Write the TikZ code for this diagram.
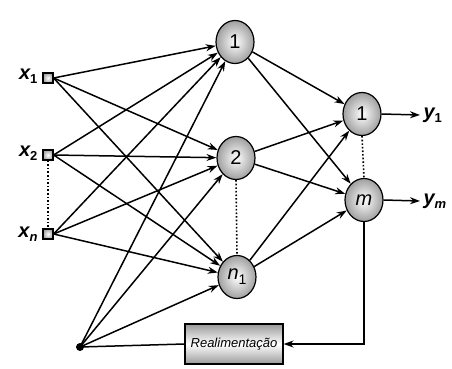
\documentclass[tikz,border=0pt]{standalone}
\usepackage{fontspec}
\setmainfont{Liberation Sans}
\usetikzlibrary{arrows.meta,shapes.geometric}
\newcommand{\mysub}[1]{\raisebox{-4.5pt}{\fontsize{13}{13}\selectfont\bfseries\upshape #1}}
\newcommand{\nsub}[1]{\raisebox{-5pt}{\fontsize{14}{14}\selectfont\upshape #1}}
\begin{document}
\begin{tikzpicture}[x=1pt,y=-1pt,
 neuron/.style={ellipse, draw, line width=1.2pt, minimum width=38pt, minimum height=43pt, inner sep=0pt, inner color=white, outer color=gray!75, font=\fontsize{20}{20}\selectfont},
 inbox/.style={rectangle, draw, line width=1.2pt, minimum size=10pt, inner sep=0pt, inner color=white, outer color=gray!70},
 conn/.style={line width=1.5pt, -{Stealth[length=10pt,width=7pt]}},
 plain/.style={line width=1.5pt},
 lbl/.style={font=\fontsize{20}{20}\selectfont\bfseries\itshape},
 dots/.style={dotted, line width=1.6pt}]
\useasboundingbox (0,0) rectangle (452,369);

% inputs
\node[inbox] (x1) at (48,78) {};
\node[inbox] (x2) at (48,155) {};
\node[inbox] (xn) at (48,234) {};
\node[lbl, anchor=east] (lx1) at (41,76) {x\mysub{1}};
\node[lbl, anchor=east] (lx2) at (41,153) {x\mysub{2}};
\node[lbl, anchor=east] (lxn) at (41,234) {x\mysub{\itshape n}};

% hidden
\node[neuron] (h1) at (235,42) {1};
\node[neuron] (h2) at (236,158) {2};
\node[neuron] (hn) at (237,277) {\itshape n\nsub{1}};

% outputs
\node[neuron] (o1) at (362,114) {1};
\node[neuron] (om) at (364,200) {\itshape m};

\node[lbl, anchor=west] (y1) at (420,115) {y\mysub{1}};
\node[lbl, anchor=west] (ym) at (420,201) {y\mysub{\itshape m}};

% feedback
\node[draw, line width=1.2pt, minimum width=98pt, minimum height=40pt, inner sep=0pt,
      top color=gray!80, bottom color=gray!80, middle color=white,
      font=\fontsize{13}{13}\selectfont\itshape] (fbbox) at (234,344) {Realimentação};
\node[circle, fill=black, inner sep=0pt, minimum size=8pt] (fb) at (80,347) {};

% dotted
\draw[dots] (x2.south) -- (xn.north);
\draw[dots] (h2.south) -- (hn.north);
\draw[dots] (o1.south) -- (om.north);

% input to hidden
\foreach \i in {x1,x2,xn}{
  \foreach \h in {h1,h2,hn}{
    \draw[conn] (\i.east) -- (\h);
  }
}
% feedback to hidden
\foreach \h in {h1,h2,hn}{
  \draw[conn] (fb.center) -- (\h);
}
% hidden to output
\foreach \h in {h1,h2,hn}{
  \foreach \o in {o1,om}{
    \draw[conn] (\h) -- (\o);
  }
}
% outputs
\draw[conn] (o1.east) -- (y1.west);
\draw[conn] (om.east) -- (ym.west);
\draw[conn] (om.south) |- (fbbox.east);
\draw[plain] (fbbox.west) -- (fb.center);
\end{tikzpicture}
\end{document}
